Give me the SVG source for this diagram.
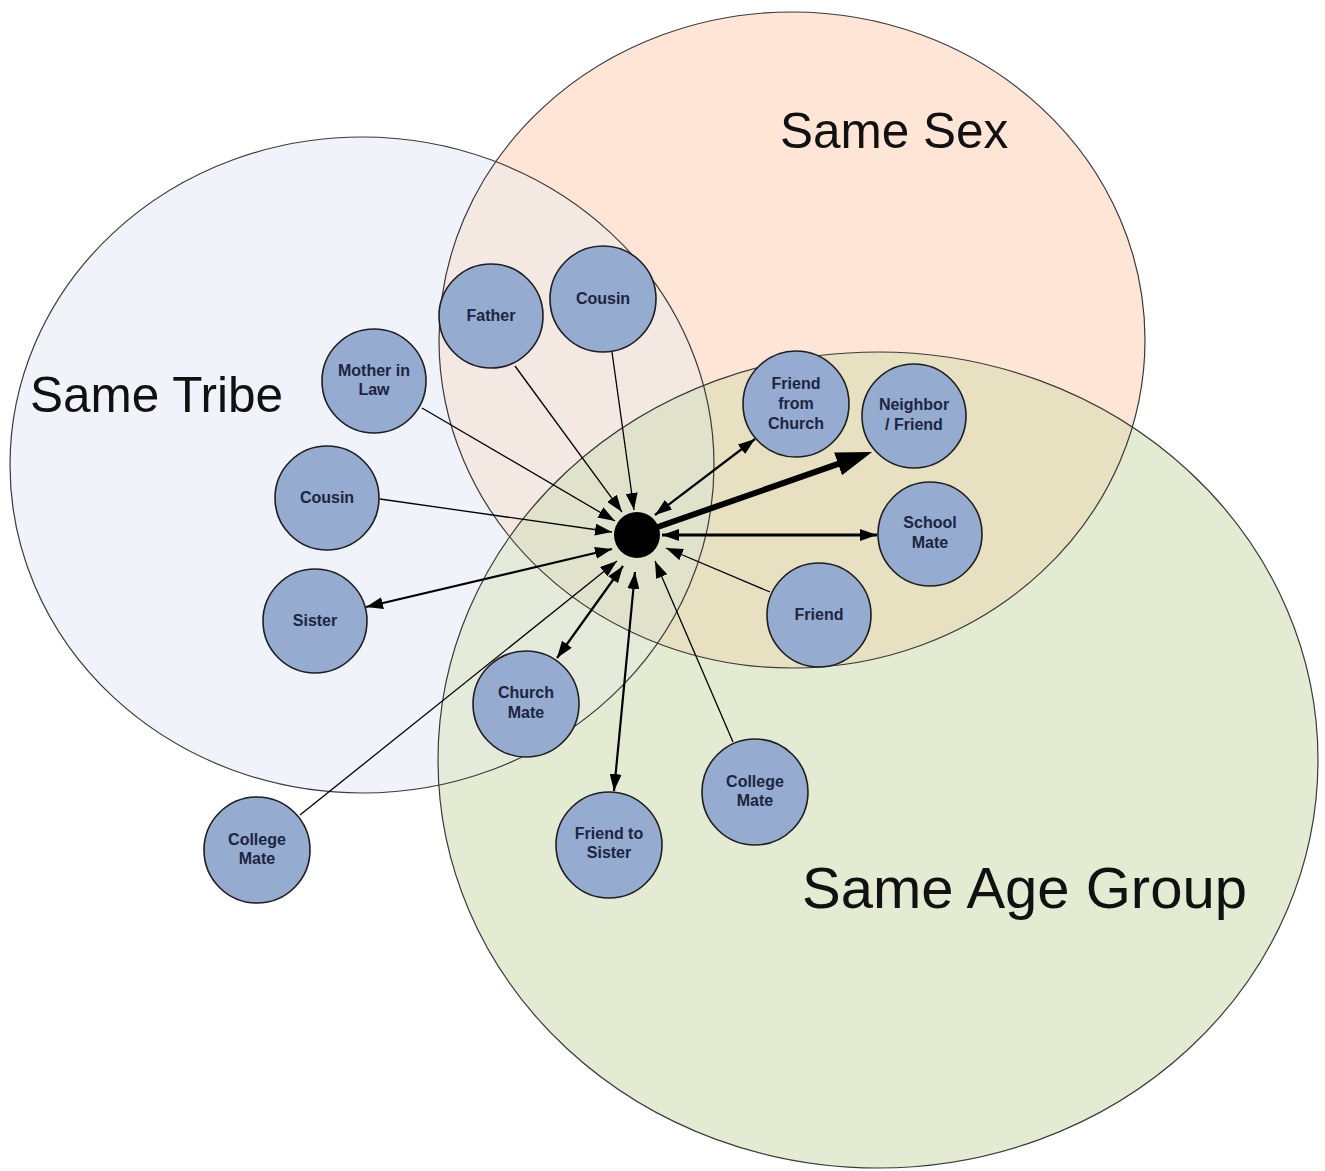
<svg xmlns="http://www.w3.org/2000/svg" width="1325" height="1171" viewBox="0 0 1325 1171">
  <style>
    .set-label { font-family: "Liberation Sans", Arial, sans-serif; fill: #111; }
    .outline { fill: none; stroke: #3a3a3a; stroke-width: 1.2; }
    .node circle { fill: #95abd0; stroke: #1e1e1e; stroke-width: 1.6; }
    .node text { font-family: "Liberation Sans", Arial, sans-serif; font-weight: bold; font-size: 16px; fill: #1c2541; text-anchor: middle; }
    .link { fill: none; stroke: #000; }
    .thin { stroke-width: 1.3; }
    .mid { stroke-width: 2.2; }
    .heavy { stroke-width: 2.8; }
  </style>
  <defs>
    <clipPath id="clip-tribe"><ellipse cx="362" cy="465" rx="352" ry="328"/></clipPath>
    <clipPath id="clip-sex"><ellipse cx="792" cy="340" rx="353" ry="328"/></clipPath>
    <marker id="ah" markerUnits="userSpaceOnUse" markerWidth="17" markerHeight="12" refX="17" refY="6" orient="auto-start-reverse">
      <path d="M0,0 L17,6 L0,12 z" fill="#000"/>
    </marker>
    <marker id="ah-big" markerUnits="userSpaceOnUse" markerWidth="36" markerHeight="24" refX="26" refY="12" orient="auto">
      <path d="M0,0 L36,12 L0,24 z" fill="#000"/>
    </marker>
  </defs>

  <rect width="1325" height="1171" fill="#ffffff"/>

  <!-- Three overlapping sets -->
  <g id="sets">
    <ellipse cx="362" cy="465" rx="352" ry="328" fill="#f0f4fa"/>
    <ellipse cx="792" cy="340" rx="353" ry="328" fill="#fee5d6"/>
    <ellipse cx="878" cy="760" rx="440" ry="408" fill="#e4ebd3"/>
    <!-- pairwise overlaps -->
    <ellipse cx="792" cy="340" rx="353" ry="328" fill="#f4e8e3" clip-path="url(#clip-tribe)"/>
    <ellipse cx="878" cy="760" rx="440" ry="408" fill="#e7e1c2" clip-path="url(#clip-sex)"/>
    <ellipse cx="878" cy="760" rx="440" ry="408" fill="#e5eada" clip-path="url(#clip-tribe)"/>
    <!-- triple overlap -->
    <g clip-path="url(#clip-sex)">
      <ellipse cx="878" cy="760" rx="440" ry="408" fill="#e1e2cb" clip-path="url(#clip-tribe)"/>
    </g>
    <ellipse class="outline" cx="362" cy="465" rx="352" ry="328"/>
    <ellipse class="outline" cx="792" cy="340" rx="353" ry="328"/>
    <ellipse class="outline" cx="878" cy="760" rx="440" ry="408"/>
    <text class="set-label" x="780" y="148" font-size="49.5">Same Sex</text>
    <text class="set-label" x="30" y="412" font-size="49.5">Same Tribe</text>
    <text class="set-label" x="802" y="908" font-size="58">Same Age Group</text>
  </g>

  <!-- Connectors to the central person -->
  <g id="connectors">
    <path class="link thin" d="M515,366 L622,512" marker-end="url(#ah)"/>
    <path class="link thin" d="M612,352 L634,510" marker-end="url(#ah)"/>
    <path class="link thin" d="M422,408 L615,521" marker-end="url(#ah)"/>
    <path class="link thin" d="M380,499 L612,532" marker-end="url(#ah)"/>
    <path class="link mid" d="M366,607 L612,549" marker-start="url(#ah)" marker-end="url(#ah)"/>
    <path class="link thin" d="M300,815 L617,561" marker-end="url(#ah)"/>
    <path class="link mid" d="M557,658 L623,566" marker-start="url(#ah)" marker-end="url(#ah)"/>
    <path class="link mid" d="M614,791 L635,572" marker-start="url(#ah)" marker-end="url(#ah)"/>
    <path class="link thin" d="M733,742 L655,561" marker-end="url(#ah)"/>
    <path class="link thin" d="M770,592 L666,548" marker-end="url(#ah)"/>
    <path class="link heavy" d="M877,535 L662,535" marker-start="url(#ah)" marker-end="url(#ah)"/>
    <path class="link mid" d="M755,439 L655,515" marker-start="url(#ah)" marker-end="url(#ah)"/>
    <path class="link" stroke-width="6" d="M652,529 L862.6,455.3" marker-end="url(#ah-big)"/>
  </g>

  <g id="node-center">
    <circle cx="637" cy="535" r="23" fill="#000"/>
  </g>

  <g id="node-father" class="node">
    <circle cx="491" cy="316" r="52"/>
    <text x="491" y="321">Father</text>
  </g>
  <g id="node-cousin-top" class="node">
    <circle cx="603" cy="299" r="53"/>
    <text x="603" y="304">Cousin</text>
  </g>
  <g id="node-mother-in-law" class="node">
    <circle cx="374" cy="381" r="52"/>
    <text x="374" y="376">Mother in</text>
    <text x="374" y="395">Law</text>
  </g>
  <g id="node-cousin-left" class="node">
    <circle cx="327" cy="498" r="52"/>
    <text x="327" y="503">Cousin</text>
  </g>
  <g id="node-sister" class="node">
    <circle cx="315" cy="621" r="52"/>
    <text x="315" y="626">Sister</text>
  </g>
  <g id="node-friend-from-church" class="node">
    <circle cx="796" cy="404" r="53"/>
    <text x="796" y="389">Friend</text>
    <text x="796" y="409">from</text>
    <text x="796" y="429">Church</text>
  </g>
  <g id="node-neighbor" class="node">
    <circle cx="914" cy="416" r="52"/>
    <text x="914" y="410">Neighbor</text>
    <text x="914" y="430">/ Friend</text>
  </g>
  <g id="node-school-mate" class="node">
    <circle cx="930" cy="534" r="52"/>
    <text x="930" y="528">School</text>
    <text x="930" y="548">Mate</text>
  </g>
  <g id="node-friend" class="node">
    <circle cx="819" cy="615" r="52"/>
    <text x="819" y="620">Friend</text>
  </g>
  <g id="node-church-mate" class="node">
    <circle cx="526" cy="704" r="53"/>
    <text x="526" y="698">Church</text>
    <text x="526" y="718">Mate</text>
  </g>
  <g id="node-friend-to-sister" class="node">
    <circle cx="609" cy="845" r="53"/>
    <text x="609" y="839">Friend to</text>
    <text x="609" y="858">Sister</text>
  </g>
  <g id="node-college-mate-right" class="node">
    <circle cx="755" cy="792" r="53"/>
    <text x="755" y="787">College</text>
    <text x="755" y="806">Mate</text>
  </g>
  <g id="node-college-mate-left" class="node">
    <circle cx="257" cy="850" r="53"/>
    <text x="257" y="845">College</text>
    <text x="257" y="864">Mate</text>
  </g>
</svg>
